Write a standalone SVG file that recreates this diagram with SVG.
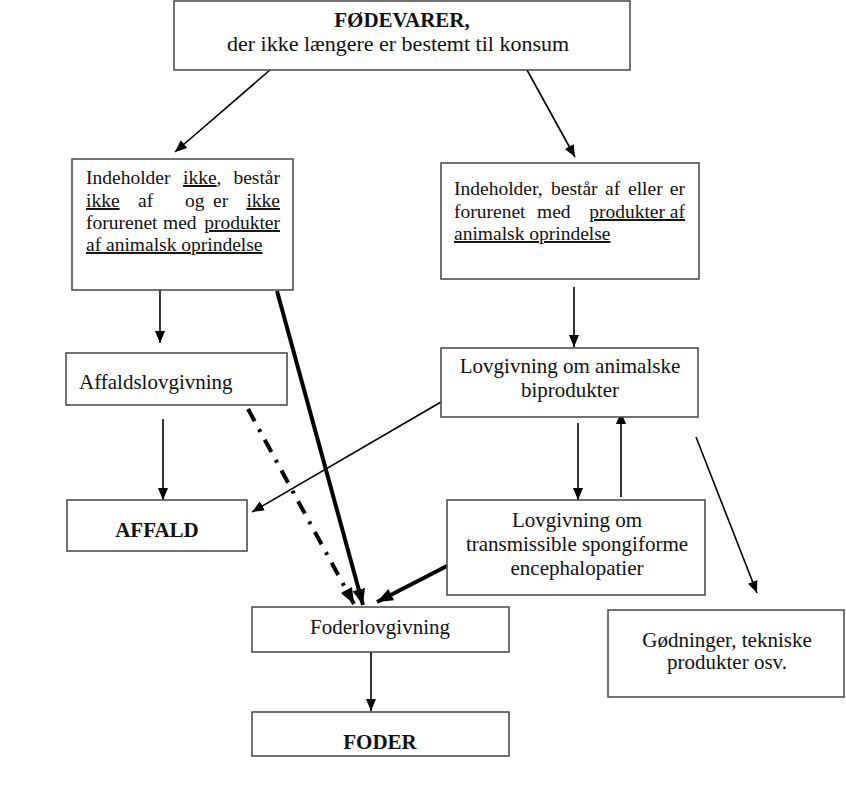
<svg xmlns="http://www.w3.org/2000/svg" width="846" height="788" viewBox="0 0 846 788">
<style>
.box{fill:#fff;stroke:#444;stroke-width:1.5}
text{font-family:"Liberation Serif","Times New Roman",serif;font-size:21px;fill:#111}
.s{font-size:19.5px}
.b{font-weight:bold}
.c{text-anchor:middle}
.e{text-anchor:end}
.u{text-decoration:underline}
.ln{fill:none;stroke:#000;stroke-width:1.6}
.thick{fill:none;stroke:#000;stroke-width:4}
.dd{fill:none;stroke:#000;stroke-width:4;stroke-dasharray:14 9 3 9}
</style>
<defs>
<marker id="a" viewBox="0 0 10 10" refX="10" refY="5" markerWidth="12" markerHeight="12" markerUnits="userSpaceOnUse" orient="auto">
<path d="M0,0.8 L10,5 L0,9.2 z" fill="#000"/>
</marker>
<marker id="at" viewBox="0 0 10 10" refX="10" refY="5" markerWidth="16" markerHeight="16" markerUnits="userSpaceOnUse" orient="auto">
<path d="M0,1 L10,5 L0,9 z" fill="#000"/>
</marker>
</defs>
<g id="connectors">
<line class="ln" x1="270" y1="70" x2="175" y2="152" marker-end="url(#a)"/>
<line class="ln" x1="527" y1="70" x2="575" y2="157" marker-end="url(#a)"/>
<line class="ln" x1="160" y1="290" x2="160" y2="343" marker-end="url(#a)"/>
<line class="ln" x1="574" y1="287" x2="574" y2="347" marker-end="url(#a)"/>
<line class="ln" x1="163" y1="419" x2="163" y2="500" marker-end="url(#a)"/>
<line class="ln" x1="441" y1="402" x2="252" y2="512" marker-end="url(#a)"/>
<line class="ln" x1="578" y1="423" x2="578" y2="500" marker-end="url(#a)"/>
<line class="ln" x1="621" y1="497" x2="621" y2="412" marker-end="url(#a)"/>
<line class="ln" x1="696" y1="437" x2="757" y2="593" marker-end="url(#a)"/>
<line class="ln" x1="371" y1="652" x2="371" y2="711" marker-end="url(#a)"/>
<line class="thick" x1="277" y1="291" x2="363" y2="605" marker-end="url(#at)"/>
<line class="dd" x1="248" y1="409" x2="354" y2="604" marker-end="url(#at)"/>
<line class="thick" x1="447" y1="566" x2="377" y2="602" marker-end="url(#at)"/>
</g>
<g id="n-fodevarer">
<rect class="box" x="174" y="1" width="456" height="69"/>
<text class="b c" x="402" y="27">FØDEVARER,</text>
<text class="c" x="398" y="51" style="font-size:22px">der ikke længere er bestemt til konsum</text>
</g>
<g id="n-ikke">
<rect class="box" x="72" y="159" width="221" height="131"/>
<text class="s" y="184"><tspan x="86">Indeholder</tspan><tspan x="183" class="u">ikke</tspan><tspan>,</tspan></text>
<text class="s e" x="280" y="184">består</text>
<text class="s" y="207"><tspan x="86" class="u">ikke</tspan><tspan x="138">af</tspan><tspan x="185">og</tspan><tspan x="213">er</tspan></text>
<text class="s e u" x="280" y="207">ikke</text>
<text class="s" y="229"><tspan x="86">forurenet</tspan><tspan x="163">med</tspan></text>
<text class="s e u" x="280" y="229">produkter</text>
<text class="s u" x="86" y="251">af animalsk oprindelse</text>
</g>
<g id="n-med">
<rect class="box" x="441" y="163" width="258" height="116"/>
<text class="s" y="195"><tspan x="454">Indeholder,</tspan><tspan x="551">består</tspan><tspan x="605">af</tspan><tspan x="628">eller</tspan></text>
<text class="s e" x="685" y="195">er</text>
<text class="s" y="218"><tspan x="454">forurenet</tspan><tspan x="537">med</tspan></text>
<text class="s e u" x="685" y="218">produkter af</text>
<text class="s u" x="454" y="240">animalsk oprindelse</text>
</g>
<g id="n-affaldslov">
<rect class="box" x="66" y="353" width="221" height="52"/>
<text x="79" y="389">Affaldslovgivning</text>
</g>
<g id="n-animalske">
<rect class="box" x="441" y="348" width="257" height="69"/>
<text class="c" x="570" y="373">Lovgivning om animalske</text>
<text class="c" x="570" y="397">biprodukter</text>
</g>
<g id="n-affald">
<rect class="box" x="67" y="500" width="180" height="51"/>
<text class="b c" x="157" y="537">AFFALD</text>
</g>
<g id="n-tse">
<rect class="box" x="447" y="500" width="258" height="95"/>
<text class="c" x="577" y="527">Lovgivning om</text>
<text class="c" x="577" y="551">transmissible spongiforme</text>
<text class="c" x="577" y="575">encephalopatier</text>
</g>
<g id="n-godninger">
<rect class="box" x="608" y="610" width="236" height="87"/>
<text class="c" x="727" y="647">Gødninger, tekniske</text>
<text class="c" x="727" y="669">produkter osv.</text>
</g>
<g id="n-foderlov">
<rect class="box" x="252" y="607" width="257" height="45"/>
<text class="c" x="380" y="634">Foderlovgivning</text>
</g>
<g id="n-foder">
<rect class="box" x="252" y="712" width="257" height="44"/>
<text class="b c" x="380" y="749">FODER</text>
</g>
</svg>
